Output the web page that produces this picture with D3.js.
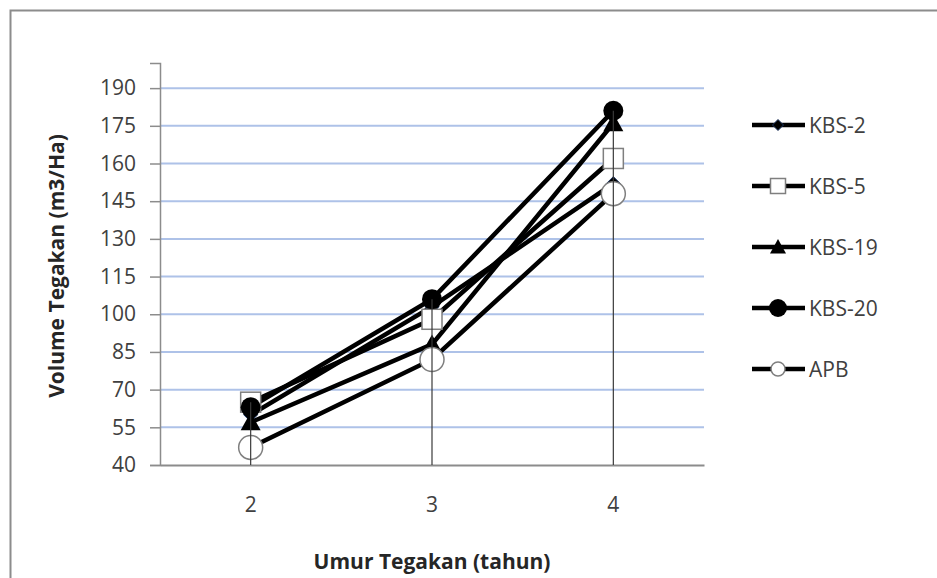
<!DOCTYPE html>
<html>
<head>
<meta charset="utf-8">
<script src="https://cdn.jsdelivr.net/npm/d3@7"></script>
<style>
  body { margin: 0; background: #fff; }
  svg text { font-family: "Open Sans", sans-serif; }
</style>
</head>
<body>
<div class="chart"></div>
<script>
        // data
        var categories = ["2", "3", "4"];
        var seriesNames = ["KBS-2", "KBS-5", "KBS-19", "KBS-20", "APB"];
        var kbs2 = [60, 103, 152];
        var kbs5 = [65, 98, 162];
        var kbs19 = [57, 88, 176];
        var kbs20 = [63, 106, 181];
        var apb = [47, 82, 148];
        var yTicks = [40, 55, 70, 85, 100, 115, 130, 145, 160, 175, 190];

        var seriesValues = [kbs2, kbs5, kbs19, kbs20, apb];
        var markerTypes = ["diamond", "square", "triangle", "dot", "ring"];

        var W = 937, H = 578;
        var plot = { left: 160, right: 704, top: 63, bottom: 465 };

        var svg = d3.select(".chart")
            .append("svg")
            .attr("width", W)
            .attr("height", H);

        // outer chart frame
        svg.append("path")
            .attr("d", "M10.5," + H + "V10.5H" + W)
            .attr("fill", "none")
            .attr("stroke", "#8c8c8c")
            .attr("stroke-width", 2);

        var x = d3.scaleBand()
            .domain(categories)
            .range([plot.left, plot.right]);

        var y = d3.scaleLinear()
            .domain([40, 200])
            .range([plot.bottom, plot.top]);

        //gridlines
        svg.append("g")
            .selectAll("line")
            .data(yTicks.slice(1))
            .join("line")
            .attr("x1", plot.left)
            .attr("x2", plot.right)
            .attr("y1", function (d) { return y(d) })
            .attr("y2", function (d) { return y(d) })
            .attr("stroke", "#aec2e8")
            .attr("stroke-width", 2);

        //y axis
        var yAxis = svg.append("g")
            .attr("transform", "translate(" + plot.left + ",0)")
            .call(d3.axisLeft(y).tickValues(yTicks).tickSize(10).tickPadding(14));
        yAxis.select(".domain").attr("stroke", "#8c8c8c").attr("stroke-width", 1.5);
        yAxis.selectAll(".tick line").attr("stroke", "#8c8c8c").attr("stroke-width", 1.5);
        yAxis.selectAll("text")
            .attr("font-size", "21px")
            .attr("fill", "#404040")
            .attr("font-family", "Open Sans");

        //x axis
        var xAxis = svg.append("g")
            .attr("transform", "translate(0," + plot.bottom + ")")
            .call(d3.axisBottom(x).tickSize(0).tickPadding(32));
        xAxis.select(".domain").attr("stroke", "#8c8c8c").attr("stroke-width", 2);
        xAxis.selectAll("text")
            .attr("font-size", "21px")
            .attr("fill", "#404040")
            .attr("font-family", "Open Sans");

        function cx(i) { return x(categories[i]) + x.bandwidth() / 2 }

        //series lines
        var line = d3.line()
            .x(function (d, i) { return cx(i) })
            .y(function (d) { return y(d) });

        svg.append("g")
            .selectAll("path")
            .data(seriesValues)
            .join("path")
            .attr("d", line)
            .attr("fill", "none")
            .attr("stroke", "#000")
            .attr("stroke-width", 4.5);

        //markers
        function drawMarker(g, type, px, py, s) {
            if (type == "diamond") {
                g.append("path")
                    .attr("d", "M" + px + "," + (py - s) + "L" + (px + s) + "," + py + "L" + px + "," + (py + s) + "L" + (px - s) + "," + py + "Z")
                    .attr("fill", "#000").attr("stroke", "#1f3864").attr("stroke-width", 1);
            } else if (type == "square") {
                g.append("rect")
                    .attr("x", px - s).attr("y", py - s)
                    .attr("width", 2 * s).attr("height", 2 * s)
                    .attr("fill", "#fff").attr("stroke", "#7f7f7f").attr("stroke-width", 1.5);
            } else if (type == "triangle") {
                g.append("path")
                    .attr("d", "M" + px + "," + (py - s) + "L" + (px + s) + "," + (py + s * 0.8) + "L" + (px - s) + "," + (py + s * 0.8) + "Z")
                    .attr("fill", "#000");
            } else if (type == "dot") {
                g.append("circle").attr("cx", px).attr("cy", py).attr("r", s).attr("fill", "#000");
            } else {
                g.append("circle").attr("cx", px).attr("cy", py).attr("r", s)
                    .attr("fill", "#fff").attr("stroke", "#7f7f7f").attr("stroke-width", 1.5);
            }
        }

        var chartSizes = [7, 10, 10, 10, 12];
        var markG = svg.append("g");
        seriesValues.forEach(function (vals, k) {
            vals.forEach(function (v, i) {
                drawMarker(markG, markerTypes[k], cx(i), y(v), chartSizes[k]);
            })
        })

        //drop lines from highest point down to the axis
        svg.append("g")
            .selectAll("line")
            .data(categories)
            .join("line")
            .attr("x1", function (d, i) { return cx(i) })
            .attr("x2", function (d, i) { return cx(i) })
            .attr("y1", function (d, i) { return y(d3.max(seriesValues, function (s) { return s[i] })) })
            .attr("y2", plot.bottom)
            .attr("stroke", "#3a3a3a")
            .attr("stroke-width", 1.2);

        //axis titles
        svg.append("text")
            .attr("x", 432)
            .attr("y", 569)
            .attr("text-anchor", "middle")
            .attr("font-size", "21px")
            .attr("font-weight", "bold")
            .attr("fill", "#262626")
            .text("Umur Tegakan (tahun)");

        svg.append("text")
            .attr("transform", "translate(64,266) rotate(-90)")
            .attr("text-anchor", "middle")
            .attr("font-size", "21px")
            .attr("font-weight", "bold")
            .attr("fill", "#262626")
            .text("Volume Tegakan (m3/Ha)");

        //legend
        var legendSizes = [5.5, 7.5, 8, 9, 7];
        var legend = svg.append("g");
        seriesNames.forEach(function (name, k) {
            var ly = 125 + k * 61;
            legend.append("line")
                .attr("x1", 752).attr("x2", 805)
                .attr("y1", ly).attr("y2", ly)
                .attr("stroke", "#000").attr("stroke-width", 4.5);
            drawMarker(legend, markerTypes[k], 778, ly, legendSizes[k]);
            legend.append("text")
                .attr("x", 809)
                .attr("y", ly)
                .attr("dy", "0.36em")
                .attr("font-size", "21px")
                .attr("fill", "#404040")
                .text(name);
        })
</script>
</body>
</html>
